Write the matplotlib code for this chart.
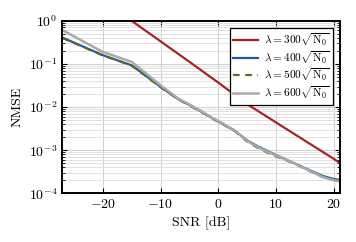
import numpy as np
import matplotlib
matplotlib.use('Agg')
import matplotlib.pyplot as plt

plt.rcParams['font.family'] = 'serif'
plt.rcParams['font.serif'] = ['cmr10', 'DejaVu Serif']
plt.rcParams['mathtext.fontset'] = 'cm'
plt.rcParams['axes.formatter.use_mathtext'] = True
plt.rcParams['axes.unicode_minus'] = False

# SNR points (dB) and NMSE values
snr_red = [-27, -20, -15, -10, -5, 0, 5, 10, 15, 20, 21]
nmse_300 = [14.0, 3.0, 1.0, 3.35e-1, 1.12e-1, 3.7e-2, 1.17e-2, 4.4e-3, 1.66e-3, 6.3e-4, 5.1e-4]

snr = [-27, -20, -15, -12, -10, -7, -5, -3, -1, 1, 3, 4, 5, 7, 10, 13, 16, 18, 20, 21]
nmse_400 = [4.1e-1, 1.6e-1, 9.3e-2, 4.7e-2, 2.95e-2, 1.55e-2, 1.12e-2, 7.9e-3, 5.5e-3,
            3.9e-3, 2.75e-3, 2.15e-3, 1.68e-3, 1.2e-3, 7.7e-4, 5.1e-4, 3.35e-4, 2.55e-4, 2.15e-4, 2.05e-4]
nmse_500 = [4.0e-1, 1.58e-1, 9.2e-2, 4.6e-2, 2.9e-2, 1.53e-2, 1.1e-2, 7.8e-3, 5.4e-3,
            3.85e-3, 2.7e-3, 2.05e-3, 1.58e-3, 1.1e-3, 7.2e-4, 5.0e-4, 3.2e-4, 2.45e-4, 2.05e-4, 1.98e-4]
nmse_600 = [6.1e-1, 1.9e-1, 1.12e-1, 5.3e-2, 3.2e-2, 1.6e-2, 1.15e-2, 8.1e-3, 5.6e-3,
            4.0e-3, 2.8e-3, 2.1e-3, 1.63e-3, 1.15e-3, 7.5e-4, 5.1e-4, 3.25e-4, 2.4e-4, 2.0e-4, 1.9e-4]

labels = [r'$\lambda = 300\sqrt{\mathrm{N}_0}$', r'$\lambda = 400\sqrt{\mathrm{N}_0}$',
          r'$\lambda = 500\sqrt{\mathrm{N}_0}$', r'$\lambda = 600\sqrt{\mathrm{N}_0}$']

fig = plt.figure(figsize=(3.56, 2.42), dpi=100)
ax = fig.add_axes([0.175, 0.201, 0.779, 0.713])

ax.semilogy(snr_red, nmse_300, color='#a82328', lw=1.6, label=labels[0])
ax.semilogy(snr, nmse_400, color='#1f5c9e', lw=1.6, label=labels[1])
ax.semilogy(snr, nmse_500, color='#5b6b2b', lw=1.6, ls=(0, (3, 2.5)), label=labels[2])
ax.semilogy(snr, nmse_600, color='#a9a9a9', lw=1.8, label=labels[3])

ax.set_xlim(-27, 21)
ax.set_ylim(1e-4, 1)
ax.set_xticks([-20, -10, 0, 10, 20])
ax.grid(True, which='major', color='#d0d0d0', lw=0.7)
ax.grid(True, which='minor', axis='y', color='#dcdcdc', lw=0.6)
ax.tick_params(which='both', direction='in', top=True, right=True, labelsize=10)
ax.tick_params(which='minor', length=2)
for s in ax.spines.values():
    s.set_linewidth(1.4)
ax.set_xlabel('SNR [dB]', fontsize=10)
ax.set_ylabel('NMSE', fontsize=10)

leg = ax.legend(loc='upper right', fontsize=8.2, fancybox=False, edgecolor='black',
                framealpha=1, handlelength=2.2, borderpad=0.3, labelspacing=0.1,
                handletextpad=0.5, borderaxespad=0.6)
leg.get_frame().set_linewidth(0.9)

fig.savefig('out.png', dpi=100)
